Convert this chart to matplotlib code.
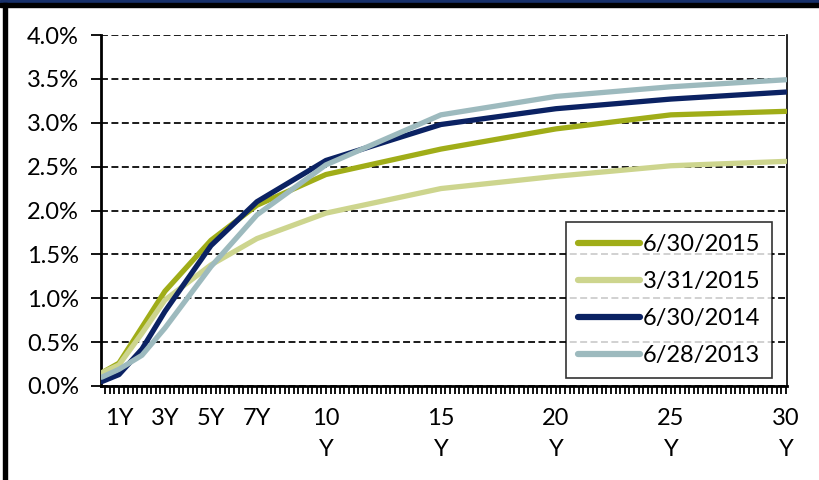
import matplotlib
matplotlib.use("Agg")
import matplotlib.pyplot as plt
from matplotlib.patches import Rectangle
from matplotlib.ticker import FuncFormatter, MultipleLocator, FixedLocator

plt.rcParams['font.family'] = ['Lato', 'DejaVu Sans']

maturities = [0.25, 1, 2, 3, 5, 7, 10, 15, 20, 25, 30]
tick_pos = [1, 3, 5, 7, 10, 15, 20, 25, 30]
tick_labels = ["1Y", "3Y", "5Y", "7Y", "10\nY", "15\nY", "20\nY", "25\nY", "30\nY"]

series_names = ["6/30/2015", "3/31/2015", "6/30/2014", "6/28/2013"]
y_2015_06 = [0.15, 0.26, 0.67, 1.08, 1.66, 2.06, 2.41, 2.70, 2.93, 3.09, 3.13]
y_2015_03 = [0.15, 0.24, 0.60, 0.98, 1.38, 1.68, 1.97, 2.25, 2.39, 2.51, 2.56]
y_2014_06 = [0.05, 0.13, 0.42, 0.85, 1.60, 2.10, 2.57, 2.98, 3.16, 3.27, 3.35]
y_2013_06 = [0.10, 0.19, 0.35, 0.66, 1.36, 1.95, 2.52, 3.09, 3.30, 3.41, 3.49]
series_values = [y_2015_06, y_2015_03, y_2014_06, y_2013_06]
colors = ["#A0AD18", "#CDD58E", "#0B2263", "#9DBABE"]

fig = plt.figure(figsize=(8.2, 4.8), dpi=100)
ax = fig.add_axes([101/820, 1-386/480, 686/820, 351/480])

for name, vals, c in zip(series_names, series_values, colors):
    ax.plot(maturities, [v/100 for v in vals], color=c, lw=3.8, label=name,
            solid_capstyle='round', solid_joinstyle='round', zorder=3)

ax.set_xlim(0.22, 30.05)
ax.set_ylim(0, 0.04)
ax.yaxis.set_major_locator(MultipleLocator(0.005))
ax.yaxis.set_major_formatter(FuncFormatter(lambda v, p: f"{v*100:.1f}%"))
ax.grid(axis='y', color='black', lw=1.25, linestyle=(0, (4, 2)), zorder=1)
ax.set_axisbelow(True)

ax.xaxis.set_major_locator(FixedLocator(tick_pos))
ax.set_xticklabels(tick_labels, linespacing=1.6)
ax.xaxis.set_minor_locator(MultipleLocator(0.2))
ax.tick_params(axis='x', which='both', direction='out', length=5.5, width=1.3,
               pad=10, labelsize=17, color='black')
ax.tick_params(axis='y', direction='out', length=7, width=1.3, pad=9, labelsize=17)

ax.spines['top'].set_visible(False)
ax.spines['right'].set_linewidth(1.2)
for s in ['left', 'bottom']:
    ax.spines[s].set_linewidth(2.0)

leg = ax.legend(loc='lower right', bbox_to_anchor=(0.978, 0.023), fontsize=17,
                frameon=True, fancybox=False, shadow=False, handlelength=2.6,
                handletextpad=0.12, labelspacing=0.68, borderpad=0.5,
                borderaxespad=0)
leg.get_frame().set_edgecolor('black')
leg.get_frame().set_linewidth(1.2)
for line in leg.get_lines():
    line.set_linewidth(4.5)

# frame decorations
fig.patches.append(Rectangle((0, 1-3/480), 1, 3/480, transform=fig.transFigure,
                             color='#17306A', zorder=0))
fig.patches.append(Rectangle((0, 1-7/480), 1, 4/480, transform=fig.transFigure,
                             color='black', zorder=0))
fig.patches.append(Rectangle((3/820, 0), 4/820, 1-3/480, transform=fig.transFigure,
                             color='black', zorder=0))

fig.savefig("out.png", dpi=100)
